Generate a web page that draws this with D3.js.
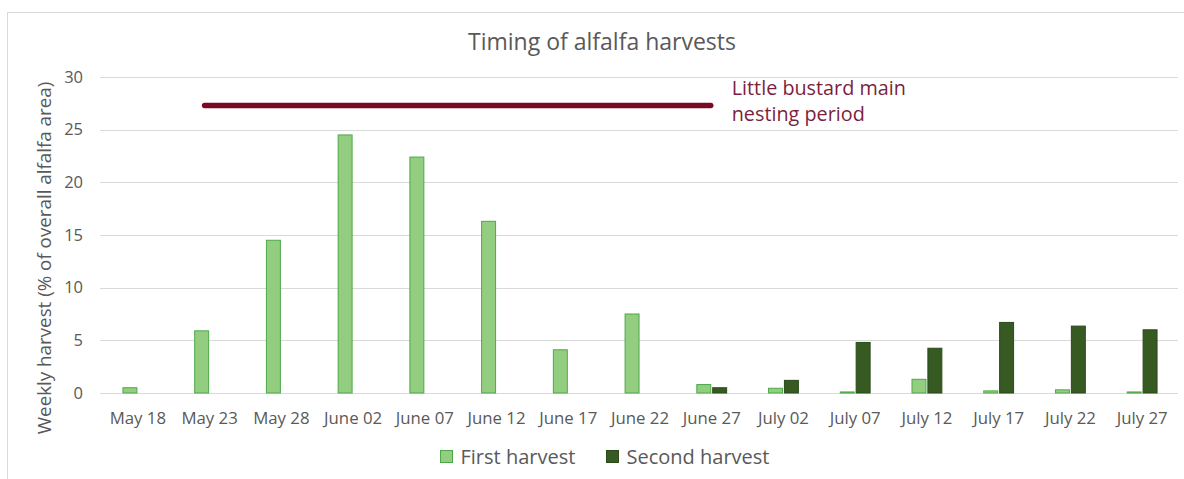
<!DOCTYPE html>
<html><head><meta charset="utf-8">
<script src="https://cdn.jsdelivr.net/npm/d3@7/dist/d3.min.js"></script>
<style>body{margin:0;background:#fff;} svg{display:block;font-family:"Open Sans",Lato,sans-serif;}</style>
</head><body><svg id="c" width="1184" height="479"></svg>
<script>
const categories = ["May 18","May 23","May 28","June 02","June 07","June 12","June 17","June 22","June 27","July 02","July 07","July 12","July 17","July 22","July 27"];
const firstHarvest  = [0.5,5.9,14.5,24.5,22.4,16.3,4.1,7.5,0.8,0.45,0.1,1.3,0.2,0.3,0.1];
const secondHarvest = [0,0,0,0,0,0,0,0,0.5,1.2,4.8,4.25,6.7,6.35,6.0];
const seriesNames = ["First harvest","Second harvest"];
const yTicks = [0,5,10,15,20,25,30];
const nestingLevel = 27.3;
const nestingStart = "May 23", nestingEnd = "June 27";
const nestingLabel = ["Little bustard main","nesting period"];

const svg = d3.select("#c");
const M = {left:102, right:1178, top:77, bottom:393};
// chart frame
svg.append("rect").attr("x",7.5).attr("y",12.5).attr("width",1200).attr("height",500)
  .attr("fill","none").attr("stroke","#d9d9d9").attr("stroke-width",1);

const x = d3.scaleBand().domain(categories).range([M.left,M.right]).padding(0);
const y = d3.scaleLinear().domain([0,30]).range([M.bottom,M.top]);
const inner = d3.scaleBand().domain(seriesNames).range([0,x.bandwidth()]).paddingInner(0.12).paddingOuter(1.32);
const colors = {"First harvest":{fill:"#93cd7f",stroke:"#4ea84a"},"Second harvest":{fill:"#375a23",stroke:"#2b4a1b"}};

// grid
svg.append("g").selectAll("line").data(yTicks).join("line")
  .attr("x1",M.left-2).attr("x2",M.right).attr("y1",d=>Math.round(y(d))+0.5).attr("y2",d=>Math.round(y(d))+0.5)
  .attr("stroke","#d9d9d9").attr("stroke-width",1);

// y axis
const ya = svg.append("g").attr("transform",`translate(${M.left-19},0)`)
  .call(d3.axisLeft(y).tickValues(yTicks).tickSize(0).tickPadding(0));
ya.select(".domain").remove();
ya.selectAll("text").attr("fill","#595959").attr("font-size",16.5).attr("font-family","'Open Sans',sans-serif");

// x axis
const xa = svg.append("g").attr("transform",`translate(0,${M.bottom})`)
  .call(d3.axisBottom(x).tickSize(0).tickPadding(19));
xa.select(".domain").remove();
xa.selectAll("text").attr("fill","#595959").attr("font-size",16.8).attr("font-family","'Open Sans',sans-serif");

// bars
const data = categories.map((c,i)=>({c, vals:[{s:seriesNames[0],v:firstHarvest[i]},{s:seriesNames[1],v:secondHarvest[i]}]}));
svg.append("g").selectAll("g").data(data).join("g")
  .attr("transform",d=>`translate(${x(d.c)},0)`)
  .selectAll("rect").data(d=>d.vals.filter(e=>e.v>0)).join("rect")
  .attr("x",d=>inner(d.s)).attr("width",inner.bandwidth())
  .attr("y",d=>y(d.v)).attr("height",d=>y(0)-y(d.v))
  .attr("fill",d=>colors[d.s].fill).attr("stroke",d=>colors[d.s].stroke).attr("stroke-width",1);

// nesting period line
const xs = x(nestingStart)+x.bandwidth()/2-5, xe = x(nestingEnd)+x.bandwidth()/2-1;
svg.append("line").attr("x1",xs).attr("x2",xe).attr("y1",y(nestingLevel)).attr("y2",y(nestingLevel))
  .attr("stroke","#7a0a24").attr("stroke-width",5.5).attr("stroke-linecap","round");
svg.append("g").selectAll("text").data(nestingLabel).join("text")
  .attr("x",xe+21).attr("y",(d,i)=>y(nestingLevel)-10.5+i*26)
  .attr("fill","#7b1f3e").attr("font-size",19.8).text(d=>d);

// title
svg.append("text").attr("x",602).attr("y",50).attr("text-anchor","middle")
  .attr("fill","#595959").attr("font-size",23).text("Timing of alfalfa harvests");

// y label
svg.append("text").attr("transform",`translate(51,${258}) rotate(-90)`).attr("text-anchor","middle")
  .attr("fill","#595959").attr("font-size",18.8).text("Weekly harvest (% of overall alfalfa area)");

// legend
const leg = svg.append("g").selectAll("g").data(seriesNames).join("g")
  .attr("transform",(d,i)=>`translate(${i===0?440.5:606.5},450.5)`);
leg.append("rect").attr("width",12).attr("height",12).attr("fill",d=>colors[d].fill).attr("stroke",d=>colors[d].stroke);
leg.append("text").attr("x",20).attr("y",13).attr("fill","#595959").attr("font-size",20).text(d=>d);
</script></body></html>
